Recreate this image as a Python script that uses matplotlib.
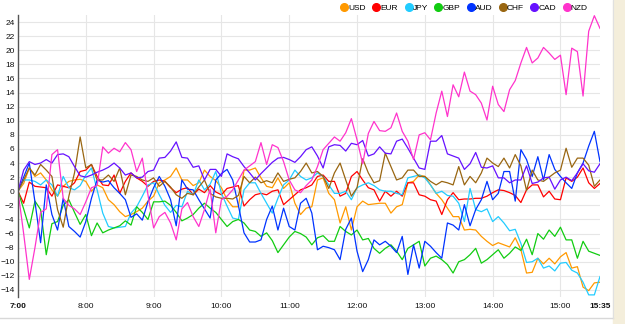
import matplotlib.pyplot as plt
import numpy as np
from matplotlib.lines import Line2D
from matplotlib.patches import Rectangle

plt.rcParams['font.family'] = ['Liberation Sans', 'DejaVu Sans']

# currency strength, 5 minute steps from 7:00 to 15:35
currencies = ['USD', 'EUR', 'JPY', 'GBP', 'AUD', 'CHF', 'CAD', 'NZD']
colors = ['#ff9900', '#ff0000', '#22ccff', '#11cc11', '#0033ff', '#996611', '#6611ff', '#ff33cc']

usd = [0, 1.1, 3.3, 2.1, 2.6, 1.6, 0.2, -0.7, 0.7, 1.4, 1.6, 1.7,
       1.4, 0, 0.9, 0.5, -1.2, -1.9, -2.9, -3.6, -3.3, -2.9, -2.4, -1.4,
       -0.7, 1.2, 1.6, 2.1, 3.3, 1.6, 1.6, 0.8, 1.2, 3, 2.1, 1.5,
       0.5, -1.2, -2.2, -2.2, 3, 3, 3.3, 1.9, 0.7, 0.5, 1.9, 0.4,
       1.2, -1.7, -3.3, -2.4, -2.2, 1.6, 1.9, -0.3, -1.2, -4.5, -2.2, -5.5,
       -2.2, -1.4, -1.9, -1.8, -1.7, -1.7, -3.1, -2.2, -1.9, 1.2, 1.4, 2.3,
       2.1, 0.9, -0.3, -1.2, -2.4, -3.6, -3.6, -5.5, -5.4, -5.5, -6.4, -7.1,
       -7.7, -7.3, -7.6, -7.9, -6.6, -8.3, -11.6, -11.5, -9.5, -10.3, -9.5, -10.3,
       -9.3, -8.7, -10.9, -10.7, -13.6, -14.1, -13, -12.9]

eur = [0, -1.7, 1.3, 0.7, 0.6, 0.5, -0.7, 0.9, 0.7, 0.5, 1.2, 2.8,
       3, 3.8, 2.1, 0.9, 0.8, 2.3, -0.3, 1.4, 2.6, 1.9, 1.4, 0.7,
       1.4, 1.6, 1.4, 0.5, -0.2, 0.3, 0.5, -0.5, 0.3, -0.2, 0.8, -0.1,
       -0.5, 0.4, 0.6, 0.8, -2.1, -1.2, -0.5, -0.3, -0.5, 0, 0.2, -1.9,
       -1.2, -0.5, 0.2, 0.5, 0.9, 2.1, 2.3, 1.4, 1.4, -0.7, -0.3, 2.1,
       2.8, 1.6, 0.5, 0.2, -1.4, 0, -0.7, 0, -0.7, 1.2, 1.2, -0.5,
       -0.7, -1.2, -1.4, -3.3, -1.2, -0.2, -1.2, -1.1, -1.1, -1, -1, -0.7,
       -0.2, 0.2, 0.1, -0.2, -0.6, -1.6, 0.2, 0.9, 0.9, -0.8, 0, -1.1,
       -1.2, 1.9, 1.4, 2, 3.3, 1.2, 0.4, 1.1]

jpy = [0, 1.6, 1.6, 1.4, 0.9, 1.6, 0.9, -0.7, 2.1, 0.5, 0.2, 0.8,
       2.3, 3.3, 0.2, -3.1, -5, -5.2, -5.1, -5, -3.1, -2.2, -0.7, 0.9,
       1.2, -0.5, -2, -3, -2, -2.2, 0, -0.5, 1.6, 0.2, 1, 2.8,
       -0.3, -2.1, -3.8, -4, 0.2, 1.2, 1.2, -0.3, -1.7, -3.1, -1, 0.9,
       1.6, 3, 2.1, 1.6, 1.9, 2.6, 2.1, 0.9, -0.3, -0.3, 0, -1.2,
       0.5, 0.9, 1.2, 0.8, 0.2, 0, 0, -0.3, -0.5, 1.9, 2.1, 2.3,
       1.9, 0.9, -0.3, 0, -0.6, -0.7, -1.7, -4.3, 0.4, -2.6, -2.9, -2.5,
       -4.3, -3.6, -4.5, -5.6, -5.4, -7.4, -10.1, -10, -9.5, -10.9, -10.6, -11.3,
       -10.2, -10.1, -11.2, -11.6, -12.9, -14.7, -14.7, -12.1]

gbp = [0, -2.5, -5.2, -1.4, -2.6, -9, -4.6, -4.3, -2, -1.2, -3, -4.7,
       -3.3, -6.3, -4.5, -5.9, -5.5, -5.2, -4.9, -4.2, -4.8, -2.2, -3, -4,
       -1.5, -1.5, -1.4, -2, -3, -4.2, -3.8, -3.3, -2.4, -1.7, -2.4, -3,
       -4, -5, -4.3, -4, -4.5, -5.5, -5.7, -6.4, -5.9, -7, -8.7, -7.6,
       -6.5, -5.7, -6, -6.5, -7.6, -6.6, -6.3, -7.1, -7.1, -5, -5.7, -6.2,
       -5.5, -6.9, -6.7, -8.1, -8.8, -8.1, -7.6, -8.5, -9.7, -8.1, -7.6, -7.1,
       -10.6, -9.5, -9.2, -9.7, -10.4, -11.6, -10, -9.7, -9, -8.1, -10.2, -9.7,
       -9, -8.3, -9.5, -8.8, -7.9, -8.4, -6.8, -9, -6, -6.8, -5.5, -6.4,
       -5.1, -6.9, -6.9, -9.5, -7.1, -8.5, -8.8, -9.1]

aud = [0, 2, 4, -1.5, -7.3, 0.9, -3.3, -5.5, -1, -5, -5.7, -6.5,
       -4.3, -1, 1.6, 1.3, 1.5, 0.5, -0.3, -1.2, -3.7, -3.2, -4.1, -1.5,
       0.5, 2.1, 0.7, -1.2, -4.9, 1.6, 0.3, 0.2, -1.2, -2.5, -3.8, 1.6,
       2.5, 3.1, 1.6, -2, -5.9, -7.2, -7.2, -6.9, -4, -2.1, -5.5, -2.4,
       -5, -5.5, -1.7, -1, -3.1, -8.3, -7.8, -8, -8.3, -9.7, -5.4, -3.8,
       -8.5, -11.4, -9.7, -6.9, -7.6, -7.1, -7.8, -8.7, -6.4, -11.8, -7.6, -10.9,
       -7.1, -7.8, -8.7, -9.5, -4.5, -4.8, -5.5, -1.9, -4.9, -2.6, -1.2, 1.4,
       -1.2, -0.3, 2.8, 2.8, -1.4, 5.9, 4.5, 2.1, 4.9, 1.6, 5.2, 3.1,
       2.1, 1.2, 0.4, 2.6, 4, 6.4, 8.5, 4.2]

chf = [0, 1.6, 3.3, 2.3, 3.8, 3, 2.1, -2.6, -5.1, -0.7, 2.6, 7.7,
       3.3, 3.8, 1.6, 1.6, 2.3, 1.4, 3.3, -0.5, 2.3, 2.1, 1.6, 1.4,
       1.9, 0.7, 1.4, 0.6, -0.5, -1, -0.3, -0.5, 0.6, 1.6, -0.3, -0.8,
       -1, -1, -1.1, -0.6, 2.1, 1.2, 2, 1.2, 1.5, 1.2, 2.6, 1.4,
       1.7, 1.9, 2.8, 4, 2.6, 2.8, 2.1, 0.4, 2.6, 4, 1.6, -0.7,
       0.5, 4.6, 2.6, 1.2, 1.5, 5.4, 3.5, 1.6, 1.9, 3, 3, 2.1,
       2.1, 1.4, 0.9, 1.4, 1.2, 0.9, 3.5, 0.9, 2.1, 1.2, 2.6, 4.7,
       4, 3.5, 4.7, 3.3, 5.2, 3.6, 0.1, 3, 1.6, 1.4, 2, 2.6,
       3, 6.1, 3.4, 4.7, 4.7, 3.7, 0.7, 1.6]

cad = [0, 3, 4.2, 3.8, 4, 4.5, 4, 5.2, 5.3, 4.9, 3.5, 2.2,
       2, 2.3, 2.7, 3, 3.4, 4, 3.3, 2.3, 2.6, 1.9, 2, 2.8,
       3, 4.7, 4.8, 5.7, 7, 4.8, 4.7, 3.4, 3.6, 1.6, 3.1, 3.1,
       2.1, 5.3, 4.9, 4.6, 3.5, 2.6, 1.6, 2.5, 3.3, 4.1, 4.7, 4.8,
       4.5, 4.1, 4.9, 5.9, 6.3, 5, 3.3, 6.3, 6.6, 6.5, 5.7, 6.8,
       6.6, 7.2, 5, 5.3, 6.3, 5.4, 5.3, 7.1, 7.4, 6.1, 4.7, 3.3,
       3.1, 7.1, 7.1, 7.9, 5.3, 5, 4.7, 3.1, 3.9, 5.5, 3.4, 3.3,
       3.6, 1.9, 1.9, 1.2, 1.6, 1.6, 3.6, 1.1, 1.3, 1.9, 2, 0.3,
       1.6, 2, 1.5, 2.6, 3.9, 2.9, 2.7, 3.9]

nzd = [0, -6, -12.5, -8, -3, -2.5, 5.2, 5.9, -1, -2, -2.5, -3.3,
       -1.5, 0.5, 0.8, 6.3, 5.4, 6.1, 5.6, 6.9, 5.9, 2.8, 4.7, -0.5,
       -5.2, -3.6, -3, -4.5, -6.9, -2.5, -1.6, -3.6, -5, -2.6, 0.3, -5.9,
       -1.2, -0.7, 0.2, 1.6, 3, 3.6, 4.2, 6.9, 3.8, 6.6, 6.2, 4.2,
       1.6, 0.2, -0.2, 0.8, 1.6, 3.5, 5.9, 6.8, 7.7, 7.1, 8.3, 10.3,
       7.3, 3.9, 8.2, 9.9, 8.6, 8.5, 9, 11.1, 8.5, 7.1, 4.5, 8,
       8.3, 7.3, 11.1, 14.2, 10.6, 15.1, 13.4, 16.9, 14.2, 13.7, 12.5, 10.1,
       14.9, 12.3, 11.3, 14.4, 15.7, 18.2, 20.4, 18.2, 18.9, 20.4, 19.6, 18.7,
       19.3, 13.7, 20.3, 19.8, 13.5, 22.7, 24.9, 23.1]

tick_minutes = [0, 60, 120, 180, 240, 300, 360, 420, 480, 515]
tick_labels = ['7:00', '8:00', '9:00', '10:00', '11:00', '12:00', '13:00', '14:00', '15:00', '15:35']

series = [usd, eur, jpy, gbp, aud, chf, cad, nzd]
minutes = np.arange(len(usd)) * 5

fig = plt.figure(figsize=(6.25, 3.24), dpi=100)
fig.patch.set_facecolor('white')

# beige strip on the right edge and the frame line at the bottom
fig.patches.append(Rectangle((613 / 625, 0), 12 / 625, 1, transform=fig.transFigure,
                             color='#f4eedb', zorder=0))
fig.add_artist(Line2D([0, 613 / 625], [6 / 324, 6 / 324], color='#d8d8d8', lw=1))
fig.add_artist(Line2D([613 / 625, 613 / 625], [6 / 324, 1], color='#e0e0e0', lw=0.8))

ax = fig.add_axes([18 / 625, 27 / 324, 582 / 625, 282 / 324])

ax.set_yticks(range(-14, 25, 2))
ax.yaxis.grid(True, color='#e6e6e6', lw=0.8)
for m in tick_minutes[1:-1]:
    ax.axvline(m, color='#e6e6e6', lw=0.8, zorder=0)
ax.axhline(0, color='#666666', lw=0.9, zorder=1)

for vals, c in zip(series, colors):
    ax.plot(minutes, vals, color=c, lw=0.9, zorder=2)

ax.set_xlim(0, 515)
ax.set_ylim(-15, 25)
ax.set_xticks(tick_minutes)
ax.set_xticklabels(tick_labels)
ax.get_xticklabels()[0].set_fontweight('bold')
ax.get_xticklabels()[-1].set_fontweight('bold')

for s in ['top', 'right', 'bottom']:
    ax.spines[s].set_visible(False)
ax.spines['left'].set_color('#555555')
ax.spines['left'].set_linewidth(1.0)
ax.tick_params(axis='both', length=0, labelsize=6, colors='#111111')
ax.tick_params(axis='y', pad=2.5)
ax.tick_params(axis='x', pad=4)

handles = [Line2D([], [], marker='o', ls='', color=c, markersize=5.5) for c in colors]
fig.legend(handles, currencies, ncol=8, loc='center right',
           bbox_to_anchor=(592 / 625, 1 - 8 / 324), frameon=False, fontsize=6,
           handletextpad=0.0, columnspacing=0.75, handlelength=1.0, borderpad=0)

fig.savefig('out.png', dpi=100)
